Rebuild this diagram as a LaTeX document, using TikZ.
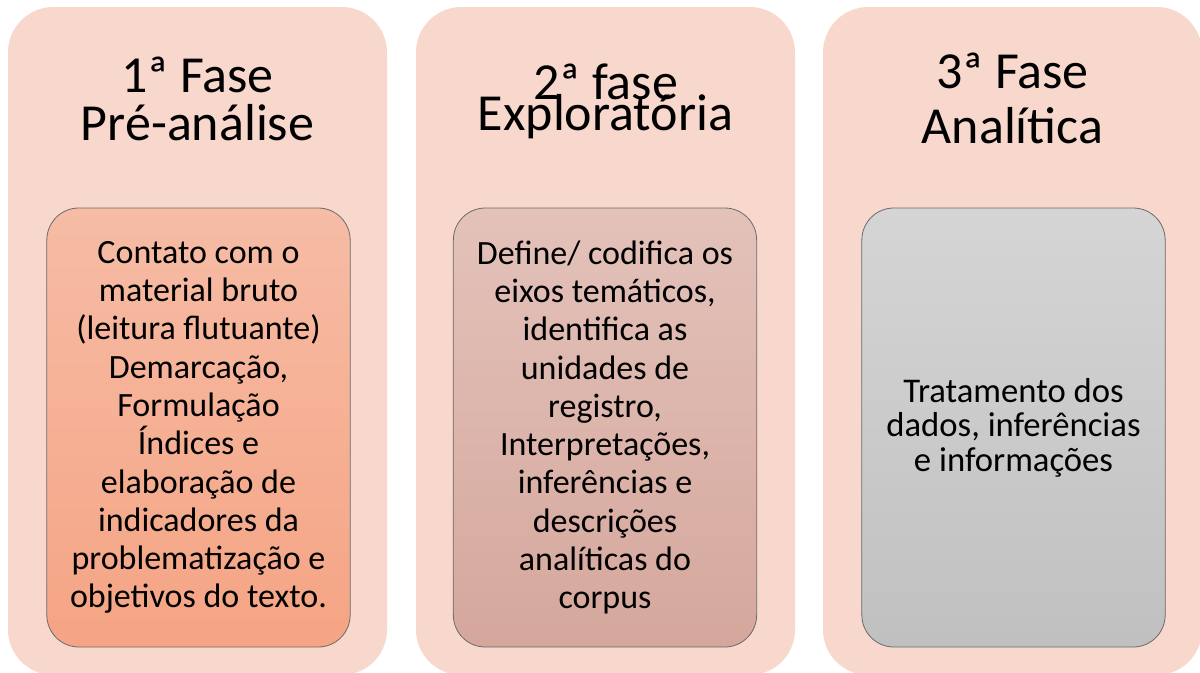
\documentclass[tikz,border=0pt]{standalone}
\usepackage{fontspec}
\setmainfont{Carlito}
\definecolor{painel}{HTML}{F8D7CD}
\definecolor{borda}{HTML}{6A6A6A}
\newcommand\apertado{\lineskiplimit-30pt\relax}

\begin{document}
\begin{tikzpicture}[x=0.75pt,y=-0.75pt,
    fase/.style={fill=painel,rounded corners=34pt,minimum width=284.25pt,minimum height=501pt,inner sep=0pt},
    titulo/.style={align=center,anchor=base,font=\fontsize{39}{36}\selectfont},
    caixa/.style={draw=borda,line width=0.6pt,rounded corners=24pt,minimum width=227.5pt,minimum height=329.25pt,
        inner sep=0pt,align=center,font=\fontsize{25.5}{28.7}\selectfont}]
    \useasboundingbox (0,0) rectangle (1200,672);
    % fases
    \node[fase] (fase1) at (197.5,341) {};
    \node[fase] (fase2) at (605.5,341) {};
    \node[fase] (fase3) at (1012.5,341) {};
    % titulos (base = ultima linha)
    \node[titulo] (tit1) at (197.5,140) {1ª Fase\\Pré-análise};
    \node[titulo,font={\fontsize{39}{23}\selectfont\apertado}] (tit2) at (605.5,130) {2ª fase\\Exploratória};
    \node[titulo,font=\fontsize{39}{41}\selectfont] (tit3) at (1012.5,143) {3ª Fase\\Analítica};
    % caixas
    \node[caixa,top color={rgb,255:red,246;green,188;blue,165},bottom color={rgb,255:red,245;green,164;blue,132}] (cx1) at (198.5,427.5)
        {Contato com o\\material bruto\\(leitura flutuante)\\Demarcação,\\Formulação\\Índices e\\elaboração de\\indicadores da\\problematização e\\objetivos do texto.};
    \node[caixa,top color={rgb,255:red,227;green,194;blue,186},bottom color={rgb,255:red,213;green,167;blue,156}] (cx2) at (605,427.5)
        {Define/ codifica os\\eixos temáticos,\\identifica as\\unidades de\\registro,\\Interpretações,\\inferências e\\descrições\\analíticas do\\corpus};
    \node[caixa,top color={rgb,255:red,213;green,213;blue,213},bottom color={rgb,255:red,192;green,192;blue,192},
        font=\fontsize{26}{25.8}\selectfont] (cx3) at (1013.5,427.5)
        {Tratamento dos\\dados, inferências\\e informações};
\end{tikzpicture}
\end{document}
